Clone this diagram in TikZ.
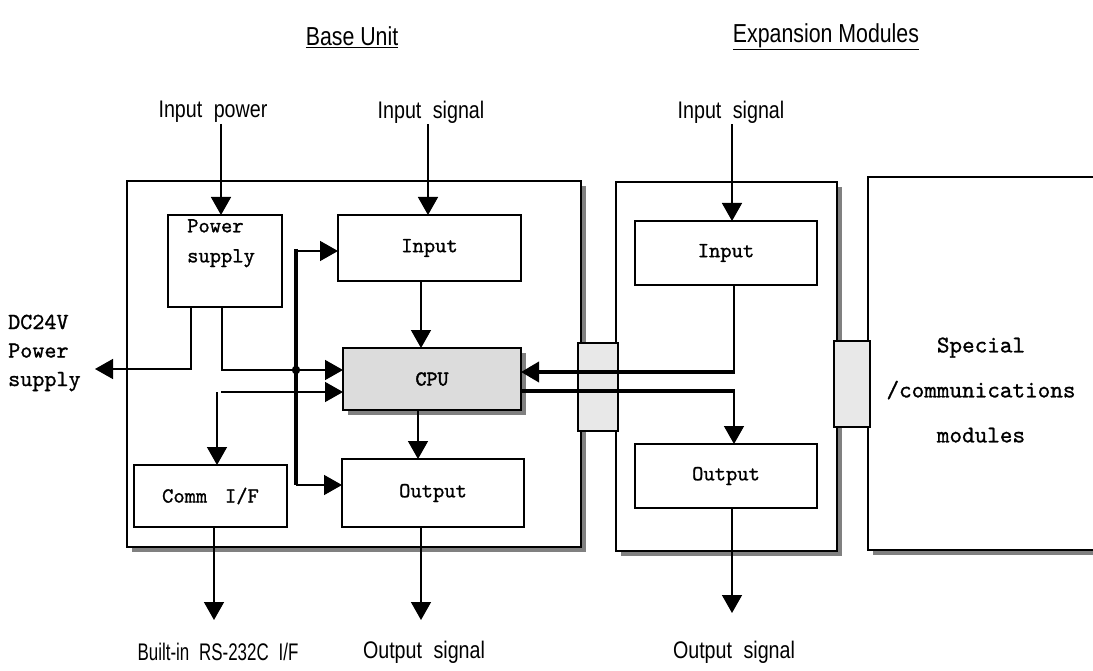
\documentclass[tikz,border=0pt]{standalone}
\usepackage{fontspec}
\newfontfamily\nsans[FakeStretch=0.82]{Liberation Sans}
\newfontfamily\monof{lmmono10-regular.otf}[FakeBold=1.0]
\newfontfamily\monob{lmmono10-regular.otf}[FakeBold=2.0]
\usetikzlibrary{arrows.meta,calc}
\definecolor{shgray}{HTML}{808080}
\definecolor{cpugray}{HTML}{DCDCDC}
\definecolor{congray}{HTML}{E8E8E8}
\begin{document}
\begin{tikzpicture}[x=1pt,y=-1pt,
  box/.style={draw,line width=1.5pt,fill=white,inner sep=0pt,outer sep=0pt},
  thinl/.style={line width=1.5pt},
  thickl/.style={line width=3.6pt},
  arr/.style={-{Triangle[width=20pt,length=18pt]}},
  mono/.style={font=\fontsize{21.5}{24}\selectfont\monof},
  lab/.style={font=\fontsize{24}{28}\selectfont\nsans,inner sep=1pt},
  head/.style={font=\fontsize{26}{30}\selectfont\nsans,inner sep=1pt}]
\useasboundingbox (0,0) rectangle (1093,671);

% ---------- headings ----------
\node[head] (tbase) at (352,37) {\underline{Base Unit}};
\node[head] (texp) at (826,37) {\underline{Expansion Modules}};

% ---------- outer boxes with shadows ----------
\fill[shgray] (132,186) rectangle (586,552);
\node[box,minimum width=454pt,minimum height=366pt] (base) at (354,364) {};
\fill[shgray] (621,187) rectangle (842,556);
\node[box,minimum width=221pt,minimum height=369pt] (exp) at (726.5,366.5) {};
\fill[shgray] (873,182) rectangle (1110,555);
\node[box,minimum width=240pt,minimum height=373pt] (spec) at (988,363.5) {};
\node[font=\fontsize{24}{45}\selectfont\monof,align=center] (spectxt) at (981,390) {Special\\/communications\\modules};

% ---------- connectors between units ----------
\node[box,fill=congray,minimum width=40pt,minimum height=88pt] (con1) at (598,387) {};
\node[box,fill=congray,minimum width=36pt,minimum height=86pt] (con2) at (852,384) {};

% ---------- inner boxes ----------
\node[box,minimum width=114pt,minimum height=92pt] (ps) at (225,261) {};
\node[font=\fontsize{21.5}{30}\selectfont\monof,align=left,anchor=north west,inner sep=0pt] (pstxt) at (187,219) {Power\\supply};
\node[box,mono,minimum width=183pt,minimum height=66pt] (inB) at (429.5,248) {Input};
\fill[shgray] (348,353) rectangle (526,415);
\node[box,fill=cpugray,font=\fontsize{21}{24}\selectfont\monob,minimum width=178pt,minimum height=62pt] (cpu) at (432,379) {CPU};
\node[box,mono,minimum width=153pt,minimum height=62pt] (comm) at (210.5,496) {Comm\hspace{0.3em} I/F};
\node[box,mono,minimum width=182pt,minimum height=68pt] (outB) at (433,493) {Output};
\node[box,mono,minimum width=182pt,minimum height=64pt] (expIn) at (726,253) {Input};
\node[box,mono,minimum width=182pt,minimum height=64pt] (expOut) at (726,476) {Output};

% ---------- outside labels ----------
\node[lab] (lpw) at (213,112) {Input\hspace{0.25em} power};
\node[lab] (lsigB) at (431,112) {Input\hspace{0.25em} signal};
\node[lab] (lsigE) at (731,112) {Input\hspace{0.25em} signal};
\node[font=\fontsize{23}{28.5}\selectfont\monof,align=left,anchor=west,inner sep=0pt] (dc) at (8,353) {DC24V\\Power\\supply};
\node[lab] (lrs) at (218,652) {\scalebox{0.86}[1]{Built-in\hspace{0.25em} RS-232C\hspace{0.25em} I/F}};
\node[lab] (loutB) at (424,652) {Output\hspace{0.25em} signal};
\node[lab] (loutE) at (734,652) {Output\hspace{0.25em} signal};

% ---------- helper coordinates ----------
\coordinate (xpw) at (221,0);
\coordinate (xsB) at (428,0);
\coordinate (xsE) at (732,0);
\coordinate (xic) at (421,0);
\coordinate (xco) at (418,0);
\coordinate (pA) at (222,370);
\coordinate (pB) at (191,369);
\coordinate (dcend) at (95,369);
\coordinate (cA) at (217,392);
\coordinate (busT) at (296,251);
\coordinate (busB) at (296,485);
\coordinate (dot) at (296,370);
\coordinate (xcm) at (214,0);
\coordinate (xob) at (421,0);
\coordinate (xoe) at (732,0);
\coordinate (r1) at (734,372);
\coordinate (r2) at (734,391);
\coordinate (bot) at (0,620);
\coordinate (botE) at (0,613);

% ---------- connectors ----------
\draw[thinl,arr] (lpw.south -| xpw) -- (ps.north -| xpw);
\draw[thinl,arr] (lsigB.south -| xsB) -- (inB.north -| xsB);
\draw[thinl,arr] (lsigE.south -| xsE) -- (expIn.north -| xsE);
\draw[thinl,arr] (inB.south -| xic) -- (cpu.north -| xic);
\draw[thinl,arr] (cpu.south -| xco) -- (outB.north -| xco);

\draw[thinl,arr] (ps.south -| pA) -- (pA) -- (cpu.west |- pA);
\draw[thinl,arr] (ps.south -| pB) -- (pB) -- (dcend);

\draw[thinl,arr] ([xshift=4pt]cA) -- (cpu.west |- cA);
\draw[thinl,arr] (cA) -- (comm.north -| cA);

\draw[thickl] ([yshift=2pt]busT) -- (busB);
\draw[thinl,arr] (busT) -- (inB.west |- busT);
\draw[thinl,arr] (busB) -- (outB.west |- busB);
\fill (dot) circle (4.2pt);

\draw[thinl,arr] (comm.south -| xcm) -- (bot -| xcm);
\draw[thinl,arr] (outB.south -| xob) -- (bot -| xob);
\draw[thinl,arr] (expOut.south -| xoe) -- (botE -| xoe);

\draw[thinl] (expIn.south -| r1) -- (r1);
\draw[thickl,arr] ([xshift=0.8pt]r1) -- (cpu.east |- r1);
\draw[thickl] (cpu.east |- r2) -- ([xshift=0.8pt]r2);
\draw[thinl,arr] (r2) -- (expOut.north -| r2);
\end{tikzpicture}
\end{document}
